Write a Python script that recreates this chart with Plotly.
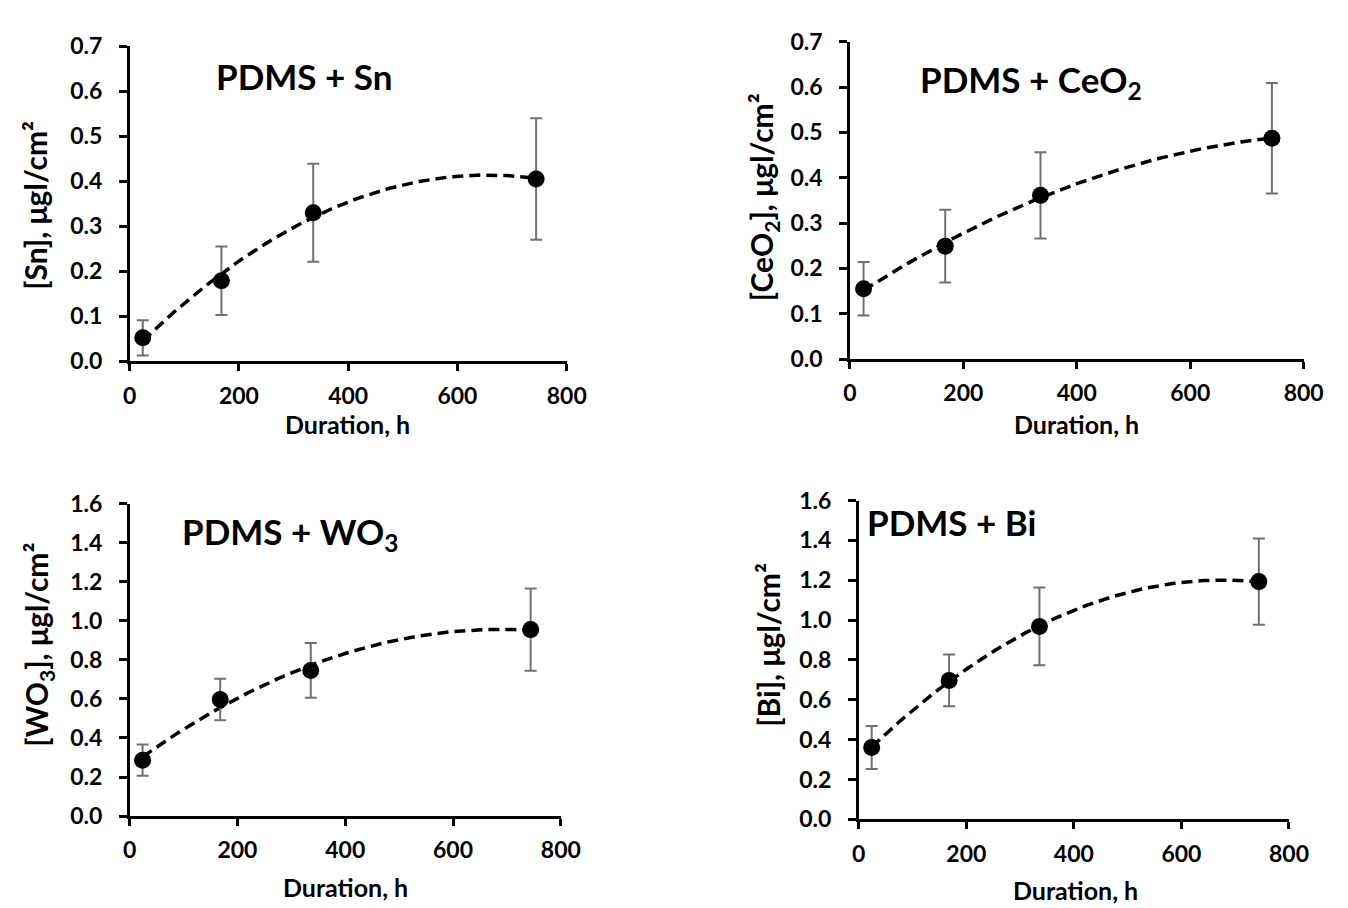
import numpy as np
import plotly.graph_objects as go

# ---- data ----
hours = [24, 168, 336, 744]

sn_vals = [0.052, 0.179, 0.330, 0.405]
sn_err = [0.039, 0.076, 0.109, 0.135]

ceo2_vals = [0.155, 0.249, 0.361, 0.487]
ceo2_err = [0.059, 0.080, 0.095, 0.122]

wo3_vals = [0.286, 0.597, 0.746, 0.955]
wo3_err = [0.080, 0.106, 0.140, 0.211]

bi_vals = [0.361, 0.697, 0.968, 1.193]
bi_err = [0.108, 0.130, 0.195, 0.216]

panel_titles = ["PDMS + Sn", "PDMS + CeO<sub>2</sub>", "PDMS + WO<sub>3</sub>", "PDMS + Bi"]
y_titles = ["[Sn], μgl/cm²", "[CeO<sub>2</sub>], μgl/cm²", "[WO<sub>3</sub>], μgl/cm²", "[Bi], μgl/cm²"]
x_title = "Duration, h"
x_ticks = [0, 200, 400, 600, 800]

W, H = 1348, 908
FONT = "Lato"

panels = [
    dict(vals=sn_vals, err=sn_err, ymax=0.7, dtick=0.1,
         px=(117, 563), py=(349, 24), title_xy=(295, 55), ytitle_xy=(21, 188), xtitle_xy=(339, 414)),
    dict(vals=ceo2_vals, err=ceo2_err, ymax=0.7, dtick=0.1,
         px=(852, 1315), py=(346.7, 19.3), title_xy=(1037, 60), ytitle_xy=(764, 180), xtitle_xy=(1083, 414)),
    dict(vals=wo3_vals, err=wo3_err, ymax=1.6, dtick=0.2,
         px=(117, 557), py=(818.3, 496), title_xy=(281, 527), ytitle_xy=(24, 642), xtitle_xy=(337, 892)),
    dict(vals=bi_vals, err=bi_err, ymax=1.6, dtick=0.2,
         px=(861, 1300), py=(821.7, 492.7), title_xy=(956, 515), ytitle_xy=(769, 642), xtitle_xy=(1082, 895)),
]

fig = go.Figure()
annotations = []
layout_axes = {}

for i, p in enumerate(panels):
    n = "" if i == 0 else str(i + 1)
    xa, ya = "x" + n, "y" + n
    # polynomial (order 2) trendline, as in the source chart
    coef = np.polyfit(hours, p["vals"], 2)
    xs = np.linspace(hours[0], hours[-1], 120)
    fig.add_trace(go.Scatter(x=xs, y=np.polyval(coef, xs), mode="lines",
                             line=dict(color="black", width=3.5, dash="11px,6px"),
                             xaxis=xa, yaxis=ya, showlegend=False, hoverinfo="skip"))
    fig.add_trace(go.Scatter(x=hours, y=p["vals"], mode="markers",
                             marker=dict(color="black", size=17),
                             error_y=dict(type="data", array=p["err"], visible=True,
                                          color="#707070", thickness=2, width=6),
                             xaxis=xa, yaxis=ya, showlegend=False))
    x0, x1 = p["px"]
    yb, yt = p["py"]
    layout_axes["xaxis" + n] = dict(
        domain=[x0 / W, x1 / W], anchor=ya, range=[0, 800], tickvals=x_ticks,
        showgrid=False, zeroline=False, showline=True, linecolor="black", linewidth=2.5,
        ticks="outside", ticklen=7, tickwidth=2.5, tickcolor="black",
        tickfont=dict(family=FONT, size=23, color="black", weight="bold"),
        ticklabelstandoff=5,
    )
    layout_axes["yaxis" + n] = dict(
        domain=[1 - yb / H, 1 - yt / H], anchor=xa, range=[0, p["ymax"]],
        dtick=p["dtick"], tick0=0, tickformat=".1f",
        showgrid=False, zeroline=False, showline=True, linecolor="black", linewidth=2.5,
        ticks="outside", ticklen=8, tickwidth=2.5, tickcolor="black",
        tickfont=dict(family=FONT, size=23, color="black", weight="bold"),
        ticklabelstandoff=12,
    )
    tx, ty = p["title_xy"]
    annotations.append(dict(text=panel_titles[i], x=tx / W, y=1 - ty / H, xref="paper", yref="paper",
                            showarrow=False, xanchor="center", yanchor="middle",
                            font=dict(family=FONT, size=35, color="black", weight="bold")))
    yx, yy = p["ytitle_xy"]
    annotations.append(dict(text=y_titles[i], x=yx / W, y=1 - yy / H, xref="paper", yref="paper",
                            showarrow=False, xanchor="center", yanchor="middle", textangle=-90,
                            font=dict(family=FONT, size=30, color="black", weight="bold")))
    xx, xy = p["xtitle_xy"]
    annotations.append(dict(text=x_title, x=xx / W, y=1 - xy / H, xref="paper", yref="paper",
                            showarrow=False, xanchor="center", yanchor="middle",
                            font=dict(family=FONT, size=25, color="black", weight="bold")))

fig.update_layout(
    width=W, height=H, margin=dict(l=0, r=0, t=0, b=0),
    paper_bgcolor="white", plot_bgcolor="white",
    annotations=annotations, showlegend=False, **layout_axes,
)

fig.write_html("out.html")
